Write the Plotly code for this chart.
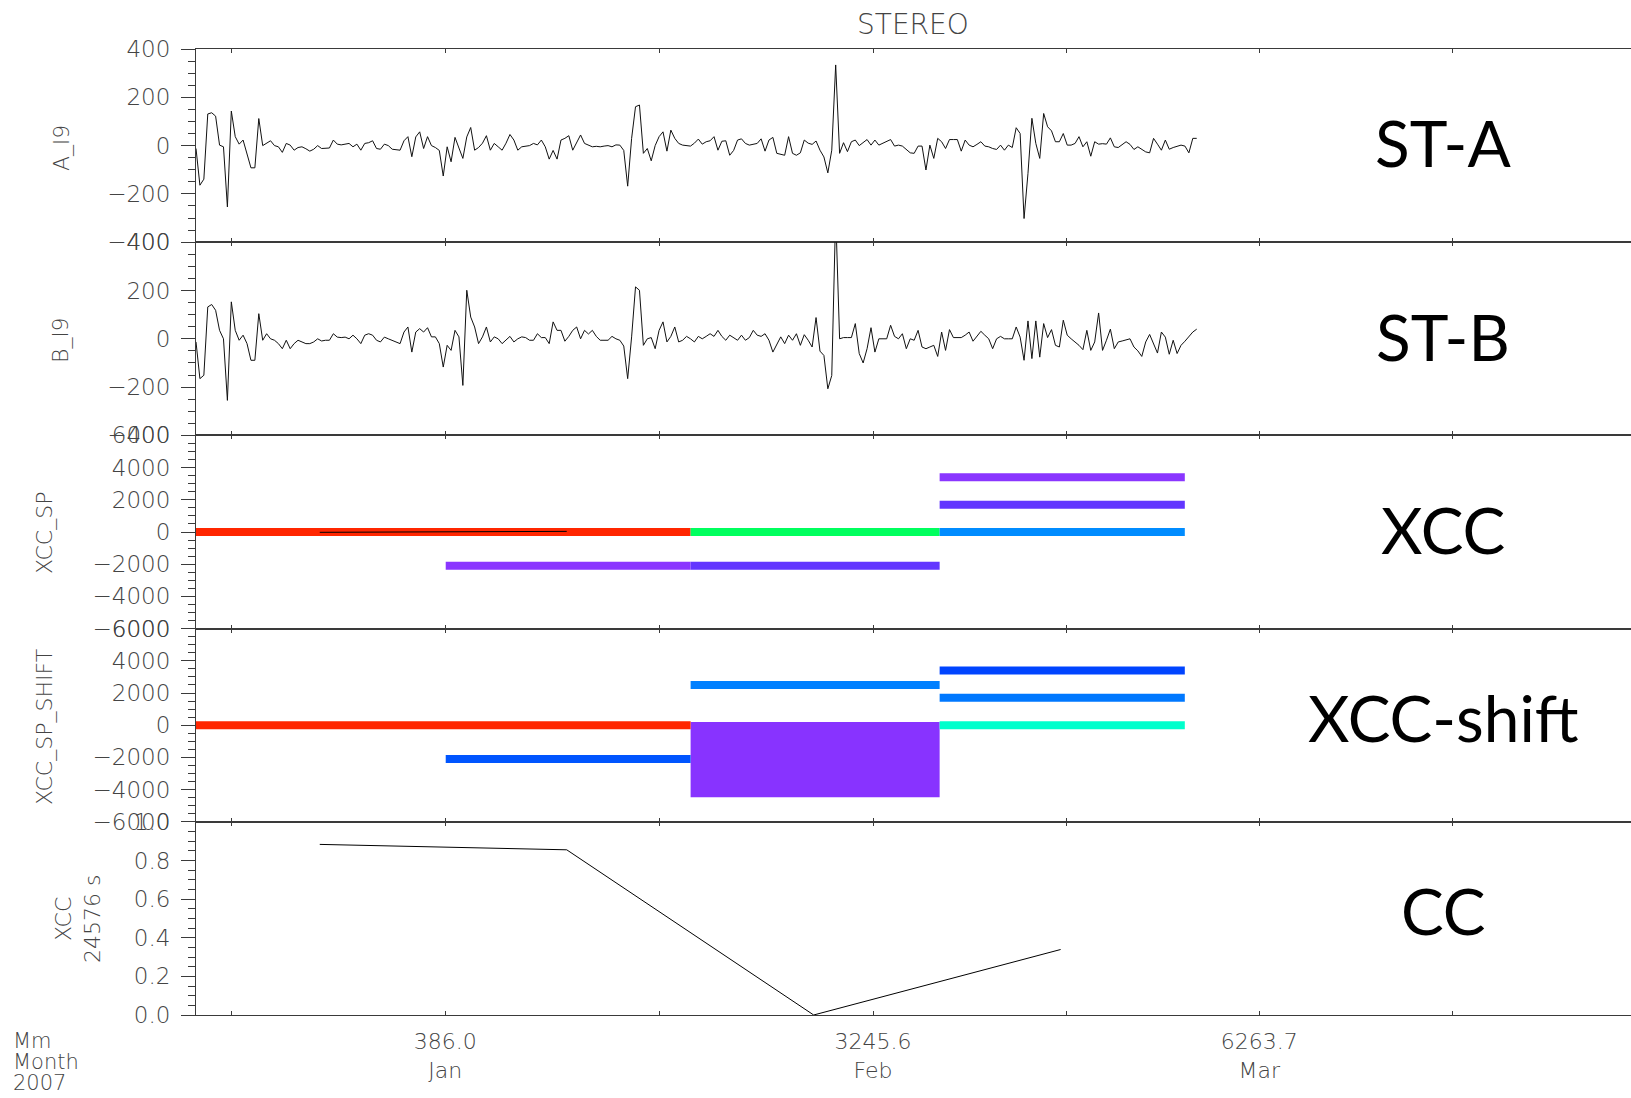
import plotly.graph_objects as go
from plotly.subplots import make_subplots

# ---------------- data ----------------
SAMPLE_DT_DAYS = 24576 / 86400.0   # 24576 s sampling
T_START = -18.07                   # days relative to 2007-01-01

a_l9 = [
    -12, -164, -139, 131, 136, 122, 2, -5, -254, 143,
    37, 6, 23, -32, -92, -92, 112, 0, 9, 20,
    0, -5, -28, 9, 2, -19, -8, -5, -13, -23,
    -15, 0, -12, -10, -10, 23, 6, 3, 6, 9,
    -5, 6, -19, 9, 12, 20, -12, -15, 6, 0,
    -15, -17, -19, 20, 37, -46, 36, 57, -12, 37,
    0, -8, -20, -126, -5, -67, 34, -10, -53, 36,
    75, -19, -8, 10, 41, -19, 9, -5, -19, 10,
    46, 23, -19, -5, -3, 0, 9, 3, 23, -5,
    -56, -20, -56, 23, 30, 41, -19, 10, 44, 9,
    2, -5, -3, -5, -2, 0, -5, 3, 2, -20,
    -168, 30, 161, 168, -32, -12, -63, 0, 37, 57,
    -23, 64, 30, 9, 2, 0, -2, 10, 27, 6,
    16, 20, 37, -19, 18, 20, -40, -20, 23, 28,
    9, 2, 5, 9, 28, -23, 23, 34, -32, -35,
    -40, 37, -32, -40, -30, 23, 10, 5, 19, -19,
    -47, -113, -19, 334, -32, 12, -25, 16, 23, 0,
    12, 25, 2, 23, 2, 9, 15, 25, -2, 2,
    -2, -15, -30, -32, -2, -2, -101, 2, -53, 30,
    16, -12, 25, 25, 25, -23, 23, 2, -5, 5,
    16, -2, -5, -12, -16, 2, -19, 2, -8, 74,
    50, -302, -115, 113, 9, -53, 133, 78, 61, 16,
    16, 50, 2, 2, 9, 37, -5, 16, -44, 16,
    6, 8, 6, 32, -5, -8, 5, 16, 5, -16,
    -5, -15, -26, -30, 30, 6, -19, 23, -15, -8,
    -2, 2, -2, -30, 30, 30,
]

b_l9 = [
    -13, -165, -151, 132, 142, 118, 35, 0, -255, 153,
    35, -6, 15, -20, -89, -89, 104, -6, 21, 0,
    -6, -20, -41, -6, -41, -20, -6, -13, -20, -20,
    -13, 0, -9, -6, -6, 21, 7, 5, 7, 0,
    15, 0, -20, 15, 21, 15, -6, -13, 7, 0,
    -6, -13, -20, 28, 49, -55, 28, 42, 28, 46,
    8, 8, -20, -117, -27, -48, 35, 8, -193, 201,
    90, 49, -20, 8, 49, -13, 8, 0, -20, -5,
    10, -13, 0, 8, 5, -6, -6, 21, 5, 5,
    -20, 70, 35, 35, -10, 10, 35, 49, 0, 35,
    20, 35, 10, -6, -6, -6, 10, 0, -6, -30,
    -165, 8, 215, 201, -27, 0, 5, -41, 35, 70,
    -13, 10, 49, -13, -6, 10, 0, -13, 10, 0,
    10, 21, 10, 35, 10, -6, 15, 5, -6, 15,
    -6, 5, 35, 15, 10, 21, -6, -55, -20, 8,
    -20, 15, -6, 21, -27, 17, -6, -34, 88, -51,
    -69, -207, -152, 520, 0, 5, 5, 5, 63, -61,
    -100, -41, 46, -55, 0, 0, 0, 56, 10, 0,
    21, -41, 0, -6, 35, -34, -41, -34, -27, -73,
    28, -48, 38, 5, 5, 5, 15, 28, -10, 10,
    31, 15, 0, -41, 0, 10, 0, 0, 0, 49,
    7, -89, 74, -82, 74, -76, 63, 5, 38, -27,
    -34, 77, 15, 0, -13, -27, -45, 35, -48, -13,
    107, -48, -6, 40, -41, -13, -9, -6, 0, -34,
    -50, -73, -13, 18, -20, -59, 28, 7, -64, -6,
    -61, -27, -10, 10, 28, 40,
]

# XCC_SP segments (days, value, colour)
xcc_start = [-18.07, 0.03, 17.78, 17.78, 35.83, 35.83, 35.83]
xcc_end   = [17.78, 17.78, 35.83, 35.83, 53.6, 53.6, 53.6]
xcc_value = [0, -2100, 0, -2100, 0, 1700, 3400]
xcc_color = ["#ff2600", "#8a36ff", "#00ff5e", "#6236ff", "#008cff", "#6236ff", "#8a36ff"]
xcc_line_t = [-9.1, 8.8]
xcc_line_v = [-20, 40]

# XCC_SP_SHIFT segments
shift_start = [-18.07, 0.03, 17.78, 35.83, 35.83, 35.83]
shift_end   = [17.78, 17.78, 35.83, 53.6, 53.6, 53.6]
shift_value = [0, -2100, 2500, 3400, 1700, 0]
shift_color = ["#ff2600", "#0055ff", "#0080ff", "#0044ff", "#0078ff", "#00ffcc"]
shift_box_start, shift_box_end = 17.78, 35.83
shift_box_top, shift_box_bottom = 200, -4470
shift_box_color = "#8833ff"

# cross-correlation coefficient
cc_t = [-9.1, 8.8, 26.7, 44.6]
cc_v = [0.883, 0.855, 0.0, 0.339]

# x-axis ticks (days from 2007-01-01)
x_tickvals = [0, 31, 59]
x_ticktext = ["386.0<br>Jan", "3245.6<br>Feb", "6263.7<br>Mar"]
x_minor = [-15.5, 15.5, 45, 73]
x_range = [-18.07, 85.94]

panel_names = ["ST-A", "ST-B", "XCC", "XCC-shift", "CC"]

# ---------------- figure ----------------
W, H = 1631, 1098
ML, MR, MT, MB = 196, 0, 49, 83
fig = make_subplots(rows=5, cols=1, shared_xaxes=True, vertical_spacing=0)

t = [T_START + i * SAMPLE_DT_DAYS for i in range(len(a_l9))]
fig.add_trace(go.Scatter(x=t, y=a_l9, mode="lines", line=dict(color="#111111", width=1)), row=1, col=1)
fig.add_trace(go.Scatter(x=t, y=b_l9, mode="lines", line=dict(color="#111111", width=1)), row=2, col=1)

for s, e, v, c in zip(xcc_start, xcc_end, xcc_value, xcc_color):
    fig.add_trace(go.Scatter(x=[s, e], y=[v, v], mode="lines", line=dict(color=c, width=8)), row=3, col=1)
fig.add_trace(go.Scatter(x=xcc_line_t, y=xcc_line_v, mode="lines", line=dict(color="black", width=1)), row=3, col=1)

fig.add_trace(go.Bar(x=[(shift_box_start + shift_box_end) / 2], y=[shift_box_top - shift_box_bottom],
                     base=[shift_box_bottom], width=[shift_box_end - shift_box_start],
                     marker=dict(color=shift_box_color, line=dict(width=0))), row=4, col=1)
for s, e, v, c in zip(shift_start, shift_end, shift_value, shift_color):
    fig.add_trace(go.Scatter(x=[s, e], y=[v, v], mode="lines", line=dict(color=c, width=8)), row=4, col=1)

fig.add_trace(go.Scatter(x=cc_t, y=cc_v, mode="lines", line=dict(color="black", width=1)), row=5, col=1)

AX = "#3a3a3a"
TXT = "#444444"
tickfont = dict(family="DejaVu Sans", size=23, color=TXT, weight=300)

for r in range(1, 6):
    fig.update_xaxes(row=r, col=1, range=x_range, showline=True, linecolor=AX, linewidth=1,
                     mirror="ticks", ticks="inside", ticklen=4, tickcolor=AX,
                     tickmode="array", tickvals=x_tickvals, ticktext=x_ticktext,
                     showgrid=False, zeroline=False,
                     tickfont=dict(family="DejaVu Sans", size=22, color=TXT, weight=300),
                     minor=dict(tickmode="array", tickvals=x_minor, ticks="inside", ticklen=4, tickcolor=AX),
                     showticklabels=(r == 5), ticklabelstandoff=7)

def yax(r, rng, vals, texts, minor_dt):
    fig.update_yaxes(row=r, col=1, range=rng, showline=True, linecolor=AX, linewidth=1, mirror=True,
                     ticks="outside", ticklen=14, tickcolor=AX, tickmode="array",
                     tickvals=vals, ticktext=texts, showgrid=False, zeroline=False,
                     tickfont=tickfont, ticklabelstandoff=6,
                     minor=dict(tickmode="linear", tick0=0, dtick=minor_dt, ticks="outside",
                                ticklen=7, tickcolor=AX))

v400 = [-400, -200, 0, 200, 400]
t400 = ["\u2212400", "\u2212200", "0", "200", "400"]
v6000 = [-6000, -4000, -2000, 0, 2000, 4000, 6000]
t6000 = ["\u22126000", "\u22124000", "\u22122000", "0", "2000", "4000", "6000"]
yax(1, [-400, 400], v400, t400, 50)
yax(2, [-400, 400], v400, t400, 50)
yax(3, [-6000, 6000], v6000, t6000, 500)
yax(4, [-6000, 6000], v6000, t6000, 500)
yax(5, [0, 1.0], [0, 0.2, 0.4, 0.6, 0.8, 1.0], ["0.0", "0.2", "0.4", "0.6", "0.8", "1.0"], 0.05)

PH = H - MT - MB

def py(ypix):
    return (H - MB - ypix) / PH

def px(xpix):
    return (xpix - ML) / (W - ML - MR)

annots = []
ytitles = [("A_l9", 61, 148), ("B_l9", 61, 340), ("XCC_SP", 44, 533),
           ("XCC_SP_SHIFT", 44, 727), ("XCC<br>24576 s", 78, 919)]
for txt, xp, yp in ytitles:
    annots.append(dict(text=txt, x=px(xp), y=py(yp), xref="paper", yref="paper", textangle=-90,
                       showarrow=False, xanchor="center", yanchor="middle",
                       font=dict(family="DejaVu Sans", size=22, color=TXT, weight=300)))

label_y = [142, 336, 529, 717, 910]
for name, yp in zip(panel_names, label_y):
    annots.append(dict(text=name, x=px(1443), y=py(yp), xref="paper", yref="paper", showarrow=False,
                       xanchor="center", yanchor="middle", font=dict(family="Lato", size=64, color="black")))

for txt, yp in [("Mm", 1041), ("Month", 1062), ("2007", 1083)]:
    annots.append(dict(text=txt, x=px(11), y=py(yp), xref="paper", yref="paper", showarrow=False,
                       xanchor="left", yanchor="middle",
                       font=dict(family="DejaVu Sans", size=21, color=TXT, weight=300)))

annots.append(dict(text="STEREO", x=px(913), y=py(25), xref="paper", yref="paper", showarrow=False,
                   xanchor="center", yanchor="middle",
                   font=dict(family="DejaVu Sans", size=28, color=TXT, weight=300)))

fig.update_layout(width=W, height=H, margin=dict(l=ML, r=MR, t=MT, b=MB),
                  paper_bgcolor="white", plot_bgcolor="white", showlegend=False,
                  annotations=annots, barmode="overlay")

fig.write_html("out.html")
